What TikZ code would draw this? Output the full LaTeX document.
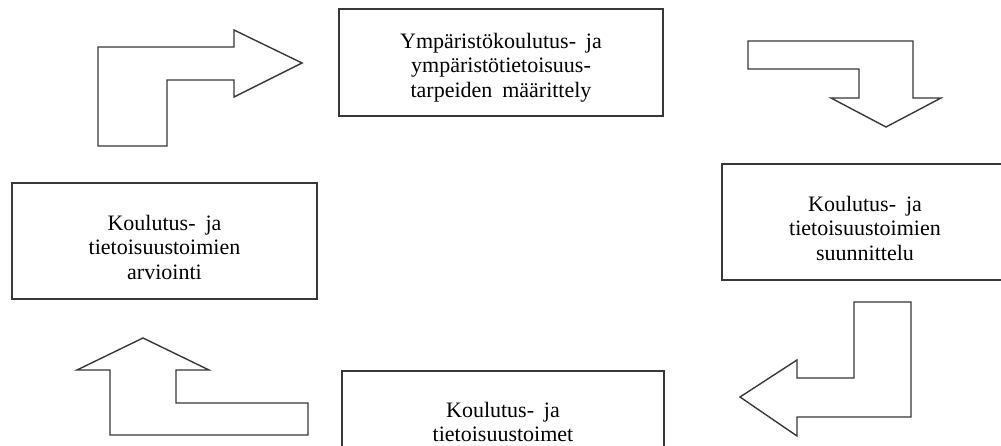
\documentclass[tikz,border=0pt]{standalone}
\usepackage{fontspec}
\setmainfont{Liberation Serif}
\newcommand\widegap{\hspace{0.45em}}
\begin{document}
\begin{tikzpicture}[x=1pt,y=-1pt,
  outline/.style={draw=black!78, line width=1.4pt, line join=miter},
  stagebox/.style={outline, inner sep=0pt},
  stagetext/.style={align=center, inner sep=0pt,
    font=\fontsize{22}{24.5}\selectfont},
  blockarrow/.style={outline}]
\useasboundingbox (0,0) rectangle (1001,446);
\clip (0,0) rectangle (1001,446);

% the four stages of the cycle
\node[stagebox, minimum width=324pt, minimum height=107pt] (needs) at (501,62.5) {};
\node[stagebox, minimum width=286pt, minimum height=116pt] (plan) at (865,222) {};
\node[stagebox, minimum width=322pt, minimum height=106pt] (act) at (503,424) {};
\node[stagebox, minimum width=305pt, minimum height=116pt] (eval) at (164.5,241) {};

\node[stagetext] (needs-t) at ([yshift=-5pt]needs.center)
  {Ympäristökoulutus-\widegap ja\\ympäristötietoisuus-\\tarpeiden\widegap määrittely};
\node[stagetext] (plan-t) at ([yshift=-6pt]plan.center)
  {Koulutus-\widegap ja\\tietoisuustoimien\\suunnittelu};
\node[stagetext] (act-t) at ([yshift=2pt]act.center)
  {Koulutus-\widegap ja\\tietoisuustoimet};
\node[stagetext] (eval-t) at ([yshift=-6pt]eval.center)
  {Koulutus-\widegap ja\\tietoisuustoimien\\arviointi};

% bent block arrows between the stages
\draw[blockarrow] (98,47) -- (234,47) -- (234,30) -- (302,63) -- (234,97)
  -- (234,80) -- (167,80) -- (167,146) -- (98,146) -- cycle;
\draw[blockarrow] (748,41) -- (913,41) -- (913,98) -- (941,98) -- (886,127)
  -- (831,98) -- (859,98) -- (859,69) -- (748,69) -- cycle;
\draw[blockarrow] (854,302) -- (911,302) -- (911,417) -- (797,417) -- (797,436)
  -- (740,397) -- (797,360) -- (797,378) -- (854,378) -- cycle;
\draw[blockarrow] (110,435) -- (308,435) -- (308,403) -- (176,403) -- (176,370)
  -- (209,370) -- (143,338) -- (77,370) -- (110,370) -- cycle;
\end{tikzpicture}
\end{document}
